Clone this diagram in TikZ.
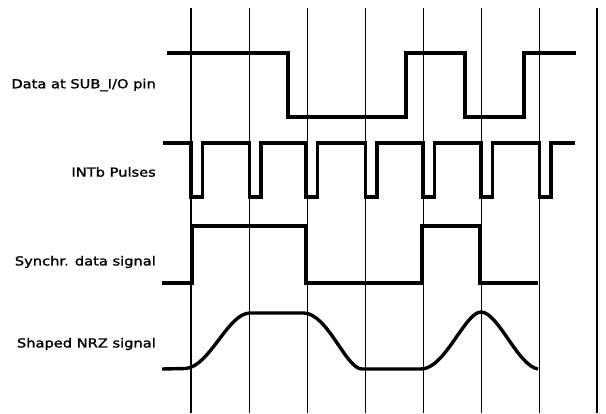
\documentclass[tikz,border=0pt]{standalone}
\usepackage{fontspec}
\setmainfont{DejaVu Sans}[FakeStretch=1.18,FakeBold=1.6]
\begin{document}
\begin{tikzpicture}[x=1pt,y=-1pt,
  grid/.style={line width=1.2pt},
  wave/.style={line width=3.4pt,line join=miter,line cap=butt},
  lbl/.style={anchor=east,inner sep=0pt,font=\fontsize{12.4}{14}\selectfont}]
\useasboundingbox (0,0) rectangle (606,413);
% vertical time lines
\foreach \x in {191,249.5,307.5,365.5,423.5,481.5,539.5,597}
  \draw[grid] (\x,8) -- (\x,413);
% labels
\node[lbl] (l1) at (156,85) {Data at SUB\_I/O pin};
\node[lbl] (l2) at (156,172) {INTb Pulses};
\node[lbl] (l3) at (156,262) {Synchr. data signal};
\node[lbl] (l4) at (156,344) {Shaped NRZ signal};
% Data at SUB_I/O pin
\draw[wave] (167,53) -- (288,53) -- (288,117) -- (406,117) -- (406,53)
  -- (465,53) -- (465,117) -- (524,117) -- (524,53) -- (576,53);
% INTb pulses
\draw[wave] (163,143)
  \foreach \x in {191,249.5,306,365.5,423,481,539.5} {
    -- (\x,143) -- (\x,197) -- (\x+11.5,197) -- (\x+11.5,143) }
  -- (575,143);
% Synchr. data signal
\draw[wave] (162,283) -- (192,283) -- (192,226) -- (306,226) -- (306,283)
  -- (422,283) -- (422,226) -- (480,226) -- (480,283) -- (538,283);
% Shaped NRZ signal
\draw[wave] (162,369) -- (186,368.5)
  .. controls (210,366) and (228,313) .. (250,313)
  -- (304,313)
  .. controls (328,314) and (346,369) .. (362,369)
  -- (421,369)
  .. controls (445,369) and (465,312) .. (481,312)
  .. controls (498,312) and (518,366) .. (538,369);
\end{tikzpicture}
\end{document}
